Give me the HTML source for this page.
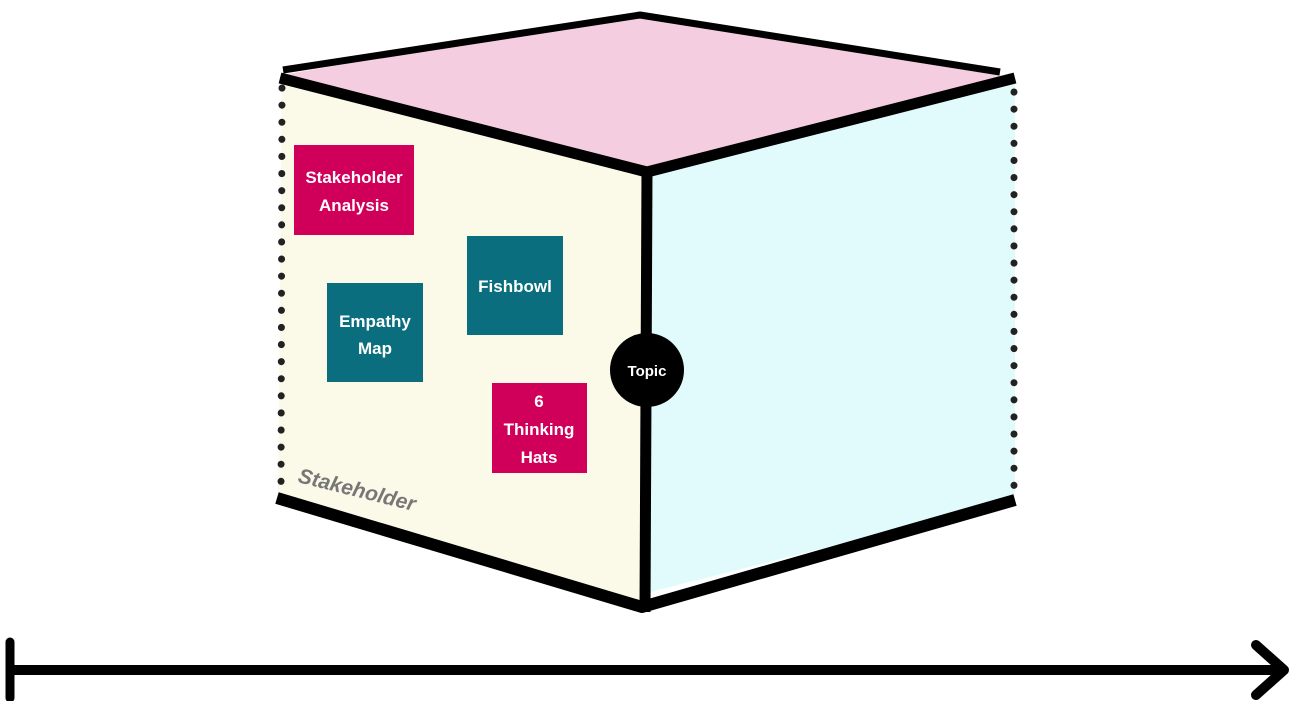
<!DOCTYPE html>
<html><head><style>body{margin:0;background:#fff;width:1292px;height:701px;overflow:hidden}
text{font-family:"Liberation Sans",sans-serif;font-weight:bold}</style></head><body>
<svg width="1292" height="701" viewBox="0 0 1292 701">
<polygon points="282,75 640,12 1015,78 647,172" fill="#f4cde0"/>
<polygon points="282,78 647,172 642,610 278,498" fill="#fbf9e8"/>
<polygon points="650,172 1015,80 1015,500 650,592" fill="#e1fbfd"/>
<polyline points="283,70 640,15 1000,72" fill="none" stroke="#000" stroke-width="7" stroke-linejoin="round"/>
<polyline points="280,78 647,172 1015,78" fill="none" stroke="#000" stroke-width="11" stroke-linejoin="round"/>
<line x1="647" y1="170" x2="645" y2="612" stroke="#000" stroke-width="11"/>
<polyline points="277,498 642,607 1015,500" fill="none" stroke="#000" stroke-width="12" stroke-linejoin="round"/>
<line x1="282" y1="88" x2="281" y2="495" stroke="#222" stroke-width="7" stroke-dasharray="0.1 17" stroke-linecap="round"/>
<line x1="1014" y1="92" x2="1014" y2="500" stroke="#222" stroke-width="7" stroke-dasharray="0.1 17" stroke-linecap="round"/>
<rect x="294" y="145" width="120" height="90" fill="#d0005a"/>
<text x="354" y="183" fill="#fff" font-size="17" text-anchor="middle">Stakeholder</text>
<text x="354" y="211" fill="#fff" font-size="17" text-anchor="middle">Analysis</text>
<rect x="467" y="236" width="96" height="99" fill="#0a6e7e"/>
<text x="515" y="292" fill="#fff" font-size="17" text-anchor="middle">Fishbowl</text>
<rect x="327" y="283" width="96" height="99" fill="#0a6e7e"/>
<text x="375" y="327" fill="#fff" font-size="17" text-anchor="middle">Empathy</text>
<text x="375" y="354" fill="#fff" font-size="17" text-anchor="middle">Map</text>
<rect x="492" y="383" width="95" height="90" fill="#d0005a"/>
<text x="539" y="407" fill="#fff" font-size="17" text-anchor="middle">6</text>
<text x="539" y="435" fill="#fff" font-size="17" text-anchor="middle">Thinking</text>
<text x="539" y="463" fill="#fff" font-size="17" text-anchor="middle">Hats</text>
<circle cx="647" cy="370" r="37" fill="#000"/>
<text x="647" y="376" fill="#fff" font-size="15" text-anchor="middle">Topic</text>
<text x="297" y="482" fill="#777" font-size="21" font-style="italic" transform="rotate(14 297 482)">Stakeholder</text>
<line x1="10" y1="670" x2="1282" y2="670" stroke="#000" stroke-width="10"/>
<line x1="10" y1="642" x2="10" y2="698" stroke="#000" stroke-width="9" stroke-linecap="round"/>
<polyline points="1256,645 1284,670 1256,695" fill="none" stroke="#000" stroke-width="10" stroke-linecap="round" stroke-linejoin="round"/>
</svg>
</body></html>
